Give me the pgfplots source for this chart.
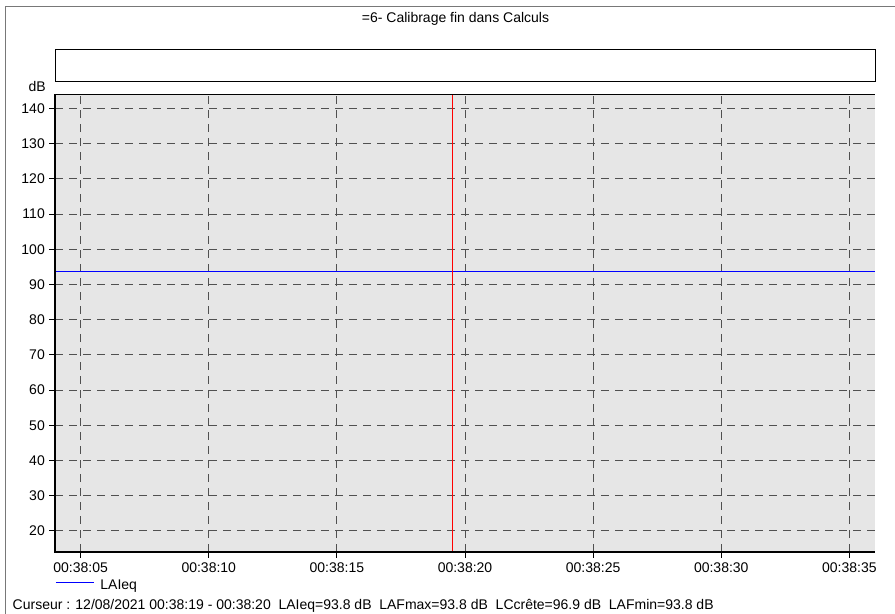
\documentclass[border=0pt]{standalone}
\usepackage{fontspec}
\setmainfont{Liberation Sans}
\usepackage{pgfplots}
\pgfplotsset{compat=1.18}
\definecolor{plotbg}{RGB}{230,230,230}
\definecolor{gridc}{RGB}{80,80,80}
\definecolor{framec}{RGB}{120,120,120}
\definecolor{lineblue}{RGB}{0,0,255}
\definecolor{linered}{RGB}{255,0,0}
\begin{document}
\begin{tikzpicture}[x=1bp,y=1bp,font=\fontsize{14bp}{16bp}\selectfont]
\useasboundingbox (0,0) rectangle (895,614);
% outer frame, title and empty header box
\draw[framec, line width=1bp] (5,0) -- (5,607) -- (895,607);
\node[anchor=base, inner sep=0pt] at (455.5,591.5) {=6- Calibrage fin dans Calculs};
\draw[black, line width=1bp] (55,532) rectangle (875,564);
\node[anchor=base east, inner sep=0pt] at (46,522) {dB};
\begin{axis}[
  at={(55bp,62bp)}, anchor=south west,
  scale only axis, width=820bp, height=457.5bp,
  xmin=4, xmax=36, ymin=14, ymax=144,
  xtick={5,10,...,35},
  xticklabels={00:38:05,00:38:10,00:38:15,00:38:20,00:38:25,00:38:30,00:38:35},
  ytick={20,30,...,140},
  /pgf/number format/assume math mode=true,
  axis line style={draw=none},
  axis background/.style={fill=plotbg},
  grid=major,
  major grid style={gridc, line width=1bp, dash pattern=on 8bp off 6bp},
  tick align=outside,
  tick pos=left,
  tick style={black, line width=1bp},
  major tick length=6bp,
  xticklabel style={inner sep=0pt, yshift=-5bp},
  yticklabel style={inner sep=0pt, xshift=-4bp},
  clip=false,
  legend style={draw=none, fill=none, inner sep=0pt,
    at={(0,0)}, anchor=north west, yshift=-26bp,
    /tikz/every odd column/.append style={column sep=4bp}},
  legend cell align=left,
  legend image code/.code={\draw[lineblue, line width=1.2bp] (0bp,3bp) -- (38bp,3bp);},
]
\addplot[lineblue, line width=1.2bp] coordinates {(4,93.8) (36,93.8)};
\addlegendentry{LAIeq}
\addplot[linered, line width=1bp, forget plot] coordinates {(19.5,14) (19.5,144)};
\draw[black, line width=1.3bp] (rel axis cs:0,1) -- (rel axis cs:0,0) -- (rel axis cs:1,0);
\draw[black, line width=1bp] (rel axis cs:0,1) -- (rel axis cs:1,1);
\end{axis}
\node[anchor=base west, inner sep=0pt] at (12.5,4) {Curseur : 12/08/2021 00:38:19 - 00:38:20\ \ LAIeq=93.8 dB\ \ LAFmax=93.8 dB\ \ LCcrête=96.9 dB\ \ LAFmin=93.8 dB};
\end{tikzpicture}
\end{document}
